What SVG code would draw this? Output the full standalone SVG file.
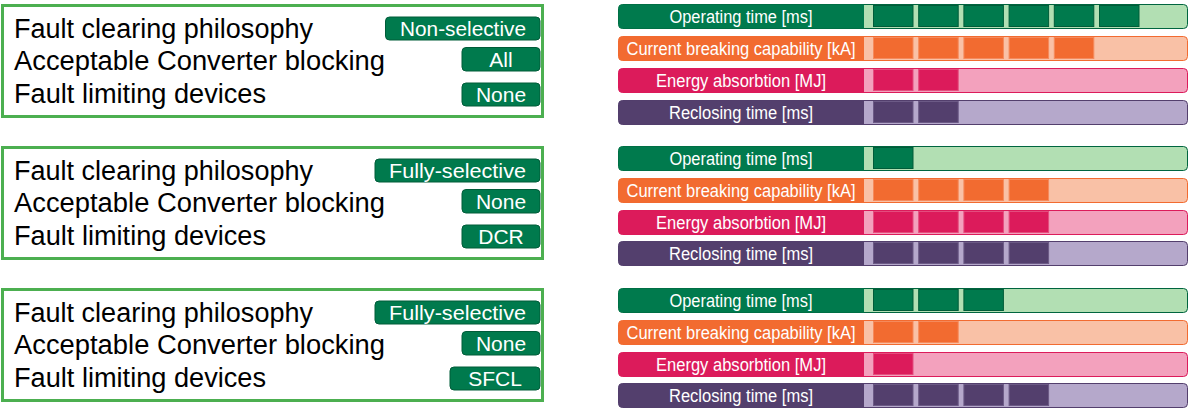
<svg xmlns="http://www.w3.org/2000/svg" width="1190" height="410" viewBox="0 0 1190 410">
<style>
.panel{fill:#fff;stroke:#4CAF50;stroke-width:3}
.prop{font-family:"Liberation Sans",Arial,sans-serif;font-size:27px;fill:#000}
.badge{fill:#007A4D;stroke:#005C39;stroke-width:1}
.btxt{font-family:"Liberation Sans",Arial,sans-serif;font-size:21px;fill:#fff;text-anchor:middle}
.ltxt{font-family:"Liberation Sans",Arial,sans-serif;font-size:17.5px;fill:#fff;text-anchor:middle}
.g .trk{fill:#B2DFB3;stroke:#00653F}
.g .lbl,.g .sq{fill:#007A4D}
.g .sq{stroke:#005C39}
.o .trk{fill:#F9C1A6;stroke:#F26B30}
.o .lbl,.o .sq{fill:#F26B30}
.o .sq{stroke:#F58A5C}
.p .trk{fill:#F3A1BD;stroke:#DC1B5B}
.p .lbl,.p .sq{fill:#DC1B5B}
.p .sq{stroke:#E44D7E}
.u .trk{fill:#B5A8CB;stroke:#533F6D}
.u .lbl,.u .sq{fill:#533F6D}
.u .sq{stroke:#6C5A86}
.trk,.sq{stroke-width:1}
</style>
<defs>
<path id="lblshape" d="M864,0.5 H622.5 A4,4 0 0 0 618.5,4.5 V20.5 A4,4 0 0 0 622.5,24.5 H864 Z"/>
</defs>

<!-- Section 1 -->
<g id="section1">
 <g id="config1">
  <rect class="panel" x="2.5" y="5.5" width="540" height="111"/>
  <text class="prop" x="14" y="37.5" textLength="299" lengthAdjust="spacingAndGlyphs">Fault clearing philosophy</text>
  <text class="prop" x="14" y="70" textLength="371" lengthAdjust="spacingAndGlyphs">Acceptable Converter blocking</text>
  <text class="prop" x="14" y="102.5" textLength="252" lengthAdjust="spacingAndGlyphs">Fault limiting devices</text>
  <rect class="badge" x="385.5" y="17" width="154.5" height="23" rx="4"/>
  <text class="btxt" x="463" y="36" textLength="126" lengthAdjust="spacingAndGlyphs">Non-selective</text>
  <rect class="badge" x="462" y="47.5" width="78" height="23.5" rx="4"/>
  <text class="btxt" x="501" y="67">All</text>
  <rect class="badge" x="462" y="83" width="78" height="23" rx="4"/>
  <text class="btxt" x="501" y="102">None</text>
 </g>
 <g id="bars1">
  <g class="g" transform="translate(0,4)">
   <rect class="trk" x="618.5" y="0.5" width="569" height="24" rx="4"/>
   <use href="#lblshape" class="lbl"/>
   <rect class="sq" x="873.5" y="1.5" width="39.5" height="21"/>
   <rect class="sq" x="918.7" y="1.5" width="39.5" height="21"/>
   <rect class="sq" x="963.9" y="1.5" width="39.5" height="21"/>
   <rect class="sq" x="1009.1" y="1.5" width="39.5" height="21"/>
   <rect class="sq" x="1054.3" y="1.5" width="39.5" height="21"/>
   <rect class="sq" x="1099.5" y="1.5" width="39.5" height="21"/>
   <text class="ltxt" x="741" y="18.5" textLength="143" lengthAdjust="spacingAndGlyphs">Operating time [ms]</text>
  </g>
  <g class="o" transform="translate(0,36)">
   <rect class="trk" x="618.5" y="0.5" width="569" height="24" rx="4"/>
   <use href="#lblshape" class="lbl"/>
   <rect class="sq" x="873.5" y="1.5" width="39.5" height="21"/>
   <rect class="sq" x="918.7" y="1.5" width="39.5" height="21"/>
   <rect class="sq" x="963.9" y="1.5" width="39.5" height="21"/>
   <rect class="sq" x="1009.1" y="1.5" width="39.5" height="21"/>
   <rect class="sq" x="1054.3" y="1.5" width="39.5" height="21"/>
   <text class="ltxt" x="741" y="18.5" textLength="229" lengthAdjust="spacingAndGlyphs">Current breaking capability [kA]</text>
  </g>
  <g class="p" transform="translate(0,68)">
   <rect class="trk" x="618.5" y="0.5" width="569" height="24" rx="4"/>
   <use href="#lblshape" class="lbl"/>
   <rect class="sq" x="873.5" y="1.5" width="39.5" height="21"/>
   <rect class="sq" x="918.7" y="1.5" width="39.5" height="21"/>
   <text class="ltxt" x="741" y="18.5" textLength="170" lengthAdjust="spacingAndGlyphs">Energy absorbtion [MJ]</text>
  </g>
  <g class="u" transform="translate(0,100)">
   <rect class="trk" x="618.5" y="0.5" width="569" height="24" rx="4"/>
   <use href="#lblshape" class="lbl"/>
   <rect class="sq" x="873.5" y="1.5" width="39.5" height="21"/>
   <rect class="sq" x="918.7" y="1.5" width="39.5" height="21"/>
   <text class="ltxt" x="741" y="18.5" textLength="144" lengthAdjust="spacingAndGlyphs">Reclosing time [ms]</text>
  </g>
 </g>
</g>

<!-- Section 2 -->
<g id="section2" transform="translate(0,142)">
 <g id="config2">
  <rect class="panel" x="2.5" y="5.5" width="540" height="111"/>
  <text class="prop" x="14" y="37.5" textLength="299" lengthAdjust="spacingAndGlyphs">Fault clearing philosophy</text>
  <text class="prop" x="14" y="70" textLength="371" lengthAdjust="spacingAndGlyphs">Acceptable Converter blocking</text>
  <text class="prop" x="14" y="102.5" textLength="252" lengthAdjust="spacingAndGlyphs">Fault limiting devices</text>
  <rect class="badge" x="375" y="17" width="165" height="23" rx="4"/>
  <text class="btxt" x="457.5" y="36" textLength="137" lengthAdjust="spacingAndGlyphs">Fully-selective</text>
  <rect class="badge" x="462" y="47.5" width="78" height="23.5" rx="4"/>
  <text class="btxt" x="501" y="67">None</text>
  <rect class="badge" x="462" y="83" width="78" height="23" rx="4"/>
  <text class="btxt" x="501" y="102">DCR</text>
 </g>
 <g id="bars2">
  <g class="g" transform="translate(0,4)">
   <rect class="trk" x="618.5" y="0.5" width="569" height="24" rx="4"/>
   <use href="#lblshape" class="lbl"/>
   <rect class="sq" x="873.5" y="1.5" width="39.5" height="21"/>
   <text class="ltxt" x="741" y="18.5" textLength="143" lengthAdjust="spacingAndGlyphs">Operating time [ms]</text>
  </g>
  <g class="o" transform="translate(0,36)">
   <rect class="trk" x="618.5" y="0.5" width="569" height="24" rx="4"/>
   <use href="#lblshape" class="lbl"/>
   <rect class="sq" x="873.5" y="1.5" width="39.5" height="21"/>
   <rect class="sq" x="918.7" y="1.5" width="39.5" height="21"/>
   <rect class="sq" x="963.9" y="1.5" width="39.5" height="21"/>
   <rect class="sq" x="1009.1" y="1.5" width="39.5" height="21"/>
   <text class="ltxt" x="741" y="18.5" textLength="229" lengthAdjust="spacingAndGlyphs">Current breaking capability [kA]</text>
  </g>
  <g class="p" transform="translate(0,68)">
   <rect class="trk" x="618.5" y="0.5" width="569" height="24" rx="4"/>
   <use href="#lblshape" class="lbl"/>
   <rect class="sq" x="873.5" y="1.5" width="39.5" height="21"/>
   <rect class="sq" x="918.7" y="1.5" width="39.5" height="21"/>
   <rect class="sq" x="963.9" y="1.5" width="39.5" height="21"/>
   <rect class="sq" x="1009.1" y="1.5" width="39.5" height="21"/>
   <text class="ltxt" x="741" y="18.5" textLength="170" lengthAdjust="spacingAndGlyphs">Energy absorbtion [MJ]</text>
  </g>
  <g class="u" transform="translate(0,99)">
   <rect class="trk" x="618.5" y="0.5" width="569" height="24" rx="4"/>
   <use href="#lblshape" class="lbl"/>
   <rect class="sq" x="873.5" y="1.5" width="39.5" height="21"/>
   <rect class="sq" x="918.7" y="1.5" width="39.5" height="21"/>
   <rect class="sq" x="963.9" y="1.5" width="39.5" height="21"/>
   <rect class="sq" x="1009.1" y="1.5" width="39.5" height="21"/>
   <text class="ltxt" x="741" y="18.5" textLength="144" lengthAdjust="spacingAndGlyphs">Reclosing time [ms]</text>
  </g>
 </g>
</g>

<!-- Section 3 -->
<g id="section3" transform="translate(0,284)">
 <g id="config3">
  <rect class="panel" x="2.5" y="5.5" width="540" height="111"/>
  <text class="prop" x="14" y="37.5" textLength="299" lengthAdjust="spacingAndGlyphs">Fault clearing philosophy</text>
  <text class="prop" x="14" y="70" textLength="371" lengthAdjust="spacingAndGlyphs">Acceptable Converter blocking</text>
  <text class="prop" x="14" y="102.5" textLength="252" lengthAdjust="spacingAndGlyphs">Fault limiting devices</text>
  <rect class="badge" x="375" y="17" width="165" height="23" rx="4"/>
  <text class="btxt" x="457.5" y="36" textLength="137" lengthAdjust="spacingAndGlyphs">Fully-selective</text>
  <rect class="badge" x="462" y="47.5" width="78" height="23.5" rx="4"/>
  <text class="btxt" x="501" y="67">None</text>
  <rect class="badge" x="450" y="83" width="90" height="23" rx="4"/>
  <text class="btxt" x="495" y="102">SFCL</text>
 </g>
 <g id="bars3">
  <g class="g" transform="translate(0,4)">
   <rect class="trk" x="618.5" y="0.5" width="569" height="24" rx="4"/>
   <use href="#lblshape" class="lbl"/>
   <rect class="sq" x="873.5" y="1.5" width="39.5" height="21"/>
   <rect class="sq" x="918.7" y="1.5" width="39.5" height="21"/>
   <rect class="sq" x="963.9" y="1.5" width="39.5" height="21"/>
   <text class="ltxt" x="741" y="18.5" textLength="143" lengthAdjust="spacingAndGlyphs">Operating time [ms]</text>
  </g>
  <g class="o" transform="translate(0,36)">
   <rect class="trk" x="618.5" y="0.5" width="569" height="24" rx="4"/>
   <use href="#lblshape" class="lbl"/>
   <rect class="sq" x="873.5" y="1.5" width="39.5" height="21"/>
   <rect class="sq" x="918.7" y="1.5" width="39.5" height="21"/>
   <text class="ltxt" x="741" y="18.5" textLength="229" lengthAdjust="spacingAndGlyphs">Current breaking capability [kA]</text>
  </g>
  <g class="p" transform="translate(0,68)">
   <rect class="trk" x="618.5" y="0.5" width="569" height="24" rx="4"/>
   <use href="#lblshape" class="lbl"/>
   <rect class="sq" x="873.5" y="1.5" width="39.5" height="21"/>
   <text class="ltxt" x="741" y="18.5" textLength="170" lengthAdjust="spacingAndGlyphs">Energy absorbtion [MJ]</text>
  </g>
  <g class="u" transform="translate(0,99)">
   <rect class="trk" x="618.5" y="0.5" width="569" height="24" rx="4"/>
   <use href="#lblshape" class="lbl"/>
   <rect class="sq" x="873.5" y="1.5" width="39.5" height="21"/>
   <rect class="sq" x="918.7" y="1.5" width="39.5" height="21"/>
   <rect class="sq" x="963.9" y="1.5" width="39.5" height="21"/>
   <rect class="sq" x="1009.1" y="1.5" width="39.5" height="21"/>
   <text class="ltxt" x="741" y="18.5" textLength="144" lengthAdjust="spacingAndGlyphs">Reclosing time [ms]</text>
  </g>
 </g>
</g>
</svg>
